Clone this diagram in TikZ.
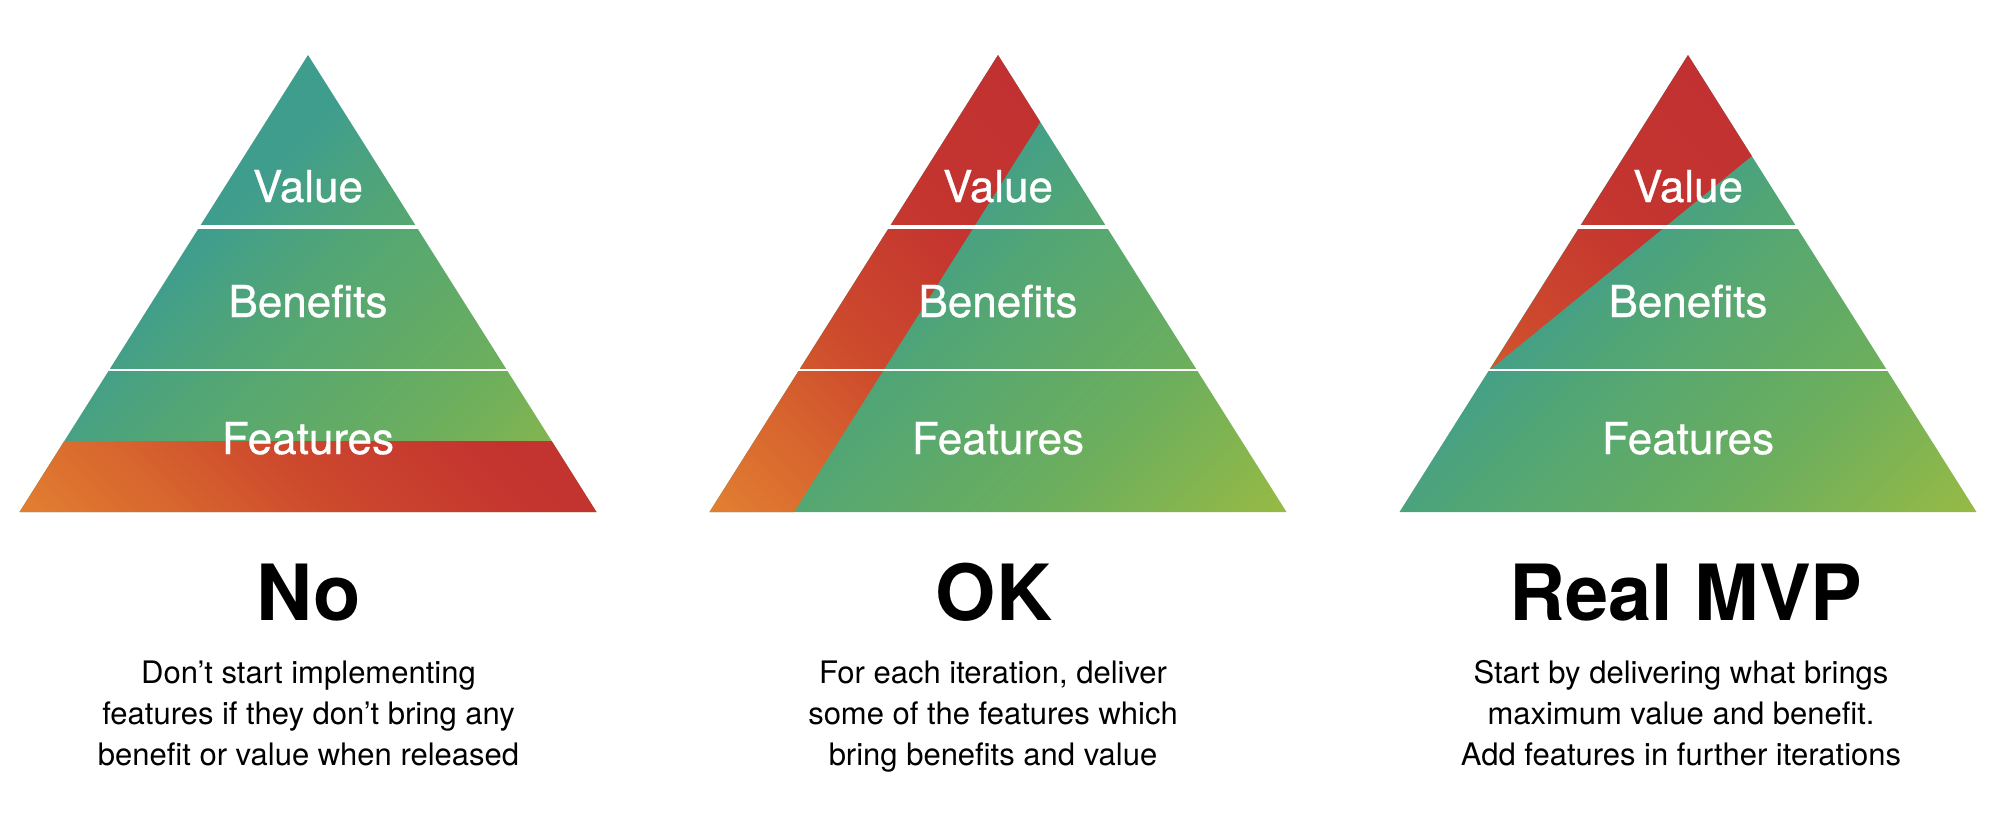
\documentclass[tikz,border=0pt]{standalone}
\usepackage{fontspec}
\setmainfont{TeX Gyre Heros}
\newfontfamily\medfont[FakeBold=0.7]{TeX Gyre Heros}
\definecolor{gA}{HTML}{3F9D8D}
\definecolor{gB}{HTML}{52A675}
\definecolor{gC}{HTML}{6BAE5E}
\definecolor{gD}{HTML}{96BA45}
\definecolor{rA}{HTML}{E27F31}
\definecolor{rB}{HTML}{D8662E}
\definecolor{rC}{HTML}{CD4A2D}
\definecolor{rD}{HTML}{C4352F}
\definecolor{rE}{HTML}{BE2C35}
\pgfdeclarehorizontalshading{greengrad}{100bp}{color(0bp)=(gA); color(39.3bp)=(gA); color(50bp)=(gB); color(67.6bp)=(gC); color(85.3bp)=(gD); color(100bp)=(gD)}
\pgfdeclarehorizontalshading{redgrad}{100bp}{color(0bp)=(rA); color(14.6bp)=(rA); color(25.2bp)=(rB); color(35.8bp)=(rC); color(50bp)=(rD); color(85.3bp)=(rE); color(100bp)=(rE)}
\tikzset{
  greenfill/.style={shading=greengrad, shading angle=-45},
  redfill/.style={shading=redgrad, shading angle=45},
  septhick/.style={draw=white, line width=3.5pt},
  septhin/.style={draw=white, line width=2.2pt},
  layer/.style={anchor=base, text=white, inner sep=0pt, font=\medfont\fontsize{44}{50}\selectfont},
  ttl/.style={anchor=base, inner sep=0pt, font=\fontsize{77.5}{80}\selectfont\bfseries},
  desc/.style={anchor=base, inner sep=0pt, font=\fontsize{31}{36}\selectfont}
}
\begin{document}
\begin{tikzpicture}[x=1pt,y=-1pt]
\useasboundingbox (0,0) rectangle (2004,822);
\fill[white] (0,0) rectangle (2004,822);

% ---------- Pyramid 1 ----------
\coordinate (at) at (308,55);
\coordinate (al) at (19.5,512);
\coordinate (ar) at (596.5,512);
\coordinate (abl) at (64.3,441);
\coordinate (abr) at (551.7,441);
\shade[greenfill] (at) -- (ar) -- (al) -- cycle;
\begin{scope}
  \clip (abl) -- (abr) -- (ar) -- (al) -- cycle;
  \shade[redfill] (at) -- (ar) -- (al) -- cycle;
\end{scope}
\coordinate (as1l) at (195,227); \coordinate (as1r) at (421,227);
\coordinate (as2l) at (105,370); \coordinate (as2r) at (511,370);
\draw[septhick] (as1l) -- (as1r);
\draw[septhin] (as2l) -- (as2r);
\node[layer] (av) at (308,202) {Value};
\node[layer] (ab) at (308,317) {Benefits};
\node[layer] (af) at (308,454) {Features};

% ---------- Pyramid 2 ----------
\coordinate (bt) at (998,55);
\coordinate (bl) at (709.5,512);
\coordinate (br) at (1286.5,512);
\coordinate (bc1) at (1040.2,121.9);
\coordinate (bc2) at (794,512);
\shade[greenfill] (bt) -- (br) -- (bl) -- cycle;
\begin{scope}
  \clip (bt) -- (bc1) -- (bc2) -- (bl) -- cycle;
  \shade[redfill] (bt) -- (br) -- (bl) -- cycle;
\end{scope}
\coordinate (bs1l) at (885,227); \coordinate (bs1r) at (1111,227);
\coordinate (bs2l) at (795,370); \coordinate (bs2r) at (1201,370);
\draw[septhick] (bs1l) -- (bs1r);
\draw[septhin] (bs2l) -- (bs2r);
\node[layer] (bv) at (998,202) {Value};
\node[layer] (bb) at (998,317) {Benefits};
\node[layer] (bf) at (998,454) {Features};

% ---------- Pyramid 3 ----------
\coordinate (ct) at (1688,55);
\coordinate (cl) at (1399.5,512);
\coordinate (cr) at (1976.5,512);
\coordinate (cc1) at (1751.8,156);
\coordinate (cc2) at (1489.5,370);
\shade[greenfill] (ct) -- (cr) -- (cl) -- cycle;
\begin{scope}
  \clip (ct) -- (cc1) -- (cc2) -- cycle;
  \shade[redfill] (ct) -- (cr) -- (cl) -- cycle;
\end{scope}
\coordinate (cs1l) at (1575,227); \coordinate (cs1r) at (1801,227);
\coordinate (cs2l) at (1485,370); \coordinate (cs2r) at (1891,370);
\draw[septhick] (cs1l) -- (cs1r);
\draw[septhin] (cs2l) -- (cs2r);
\node[layer] (cv) at (1688,202) {Value};
\node[layer] (cb) at (1688,317) {Benefits};
\node[layer] (cf) at (1688,454) {Features};

% ---------- Titles ----------
\node[ttl] (t1) at (309,620) {No};
\node[ttl] (t2) at (994,620) {OK};
\node[ttl] (t3) at (1686,620) {Real MVP};

% ---------- Descriptions ----------
\node[desc] (d1a) at (308.5,683) {Don’t start implementing};
\node[desc] (d1b) at (308.5,724) {features if they don’t bring any};
\node[desc] (d1c) at (308.5,765) {benefit or value when released};
\node[desc] (d2a) at (993,683) {For each iteration, deliver};
\node[desc] (d2b) at (993,724) {some of the features which};
\node[desc] (d2c) at (993,765) {bring benefits and value};
\node[desc] (d3a) at (1681,683) {Start by delivering what brings};
\node[desc] (d3b) at (1681,724) {maximum value and benefit.};
\node[desc] (d3c) at (1681,765) {Add features in further iterations};
\end{tikzpicture}
\end{document}
